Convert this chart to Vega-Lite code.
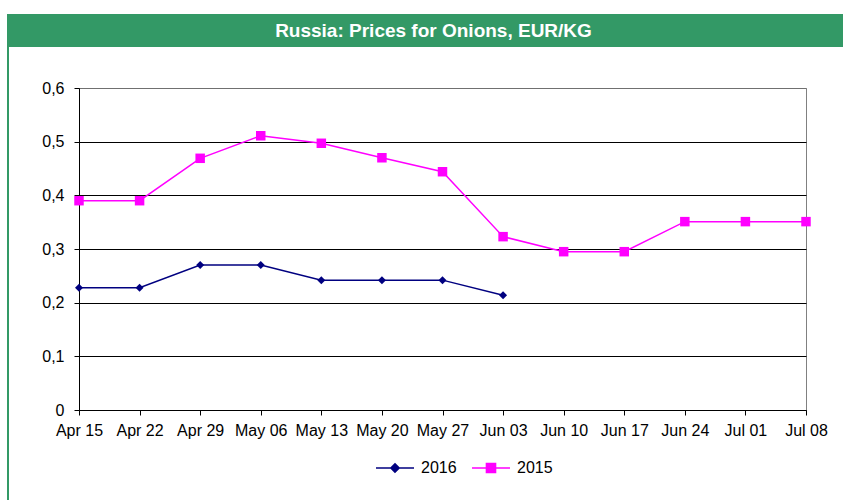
{
  "$schema": "https://vega.github.io/schema/vega-lite/v6.json",
  "padding": {"left": 7, "top": 14, "right": 0, "bottom": 0},
  "background": "white",
  "config": {
    "font": "Liberation Sans",
    "view": {"stroke": null}
  },
  "bounds": "flush",
  "spacing": 0,
  "resolve": {"legend": {"color": "independent"}},
  "vconcat": [
    {
      "width": 853,
      "height": 33,
      "view": {"fill": "#339966", "stroke": null},
      "data": {"values": [{"t": "Russia: Prices for Onions, EUR/KG"}]},
      "mark": {"type": "text", "color": "white", "fontWeight": "bold", "fontSize": 19, "font": "Liberation Sans", "baseline": "middle", "align": "center"},
      "encoding": {"text": {"field": "t"}}
    },
    {
      "bounds": "flush",
      "spacing": 70,
      "resolve": {"legend": {"color": "independent"}},
      "hconcat": [
        {
          "width": 2,
          "height": 456,
          "view": {"fill": "#339966", "stroke": null},
          "data": {"values": [{"t": ""}]},
          "mark": {"type": "text"},
          "encoding": {"text": {"field": "t"}}
        },
        {
          "bounds": "flush",
          "spacing": 40,
          "resolve": {"legend": {"color": "independent"}},
          "vconcat": [
            {
              "width": 1,
              "height": 1,
              "view": {"stroke": null},
              "data": {"values": [{"t": ""}]},
              "mark": {"type": "text"},
              "encoding": {"text": {"field": "t"}}
            },
            {
              "width": 727,
              "height": 322,
              "view": {"stroke": "#808080", "strokeWidth": 1, "fill": null},
              "data": {"values": [
                {"week": "Apr 15", "series": "2016", "price": 0.228},
                {"week": "Apr 22", "series": "2016", "price": 0.228},
                {"week": "Apr 29", "series": "2016", "price": 0.270},
                {"week": "May 06", "series": "2016", "price": 0.270},
                {"week": "May 13", "series": "2016", "price": 0.242},
                {"week": "May 20", "series": "2016", "price": 0.242},
                {"week": "May 27", "series": "2016", "price": 0.242},
                {"week": "Jun 03", "series": "2016", "price": 0.214},
                {"week": "Apr 15", "series": "2015", "price": 0.390},
                {"week": "Apr 22", "series": "2015", "price": 0.390},
                {"week": "Apr 29", "series": "2015", "price": 0.469},
                {"week": "May 06", "series": "2015", "price": 0.511},
                {"week": "May 13", "series": "2015", "price": 0.497},
                {"week": "May 20", "series": "2015", "price": 0.470},
                {"week": "May 27", "series": "2015", "price": 0.444},
                {"week": "Jun 03", "series": "2015", "price": 0.323},
                {"week": "Jun 10", "series": "2015", "price": 0.295},
                {"week": "Jun 17", "series": "2015", "price": 0.295},
                {"week": "Jun 24", "series": "2015", "price": 0.351},
                {"week": "Jul 01", "series": "2015", "price": 0.351},
                {"week": "Jul 08", "series": "2015", "price": 0.351}
              ]},
              "encoding": {
                "x": {
                  "field": "week",
                  "type": "ordinal",
                  "sort": ["Apr 15","Apr 22","Apr 29","May 06","May 13","May 20","May 27","Jun 03","Jun 10","Jun 17","Jun 24","Jul 01","Jul 08"],
                  "scale": {"type": "point", "padding": 0},
                  "axis": {
                    "title": null,
                    "labelAngle": 0,
                    "labelFontSize": 16,
                    "labelColor": "black",
                    "labelPadding": 7,
                    "labelOverlap": false,
                    "labelFlush": false,
                    "tickSize": 5,
                    "tickColor": "black",
                    "domainColor": "black",
                    "grid": false
                  }
                },
                "y": {
                  "field": "price",
                  "type": "quantitative",
                  "scale": {"domain": [0, 0.6], "nice": false},
                  "axis": {
                    "title": null,
                    "values": [0, 0.1, 0.2, 0.3, 0.4, 0.5, 0.6],
                    "labelExpr": "datum.value == 0 ? '0' : replace(format(datum.value, '.1f'), '.', ',')",
                    "labelFontSize": 16,
                    "labelColor": "black",
                    "labelPadding": 10,
                    "tickSize": 5,
                    "tickColor": "black",
                    "domainColor": "black",
                    "grid": true,
                    "gridColor": {"condition": {"test": "datum.value >= 0.6", "value": "#707070"}, "value": "black"},
                    "gridOpacity": 1
                  }
                }
              },
              "layer": [
                {
                  "mark": {"type": "line", "strokeWidth": 1.5},
                  "encoding": {
                    "color": {
                      "field": "series",
                      "type": "nominal",
                      "scale": {"domain": ["2016", "2015"], "range": ["#000080", "#FF00FF"]},
                      "legend": {
                        "title": null,
                        "orient": "none",
                        "legendX": 296,
                        "legendY": 360,
                        "direction": "horizontal",
                        "labelFontSize": 16,
                        "labelColor": "black",
                        "labelOffset": 6,
                        "columnPadding": 12,
                        "symbolSize": 1444,
                        "encode": {
                          "symbols": {
                            "update": {
                              "shape": {"signal": "datum.value === '2016' ? 'M-1,0H1M0,-0.22L0.22,0L0,0.22L-0.22,0Z' : 'M-1,0H1M-0.24,-0.24H0.24V0.24H-0.24Z'"},
                              "fill": {"signal": "datum.value === '2016' ? '#000080' : '#FF00FF'"},
                              "stroke": {"signal": "datum.value === '2016' ? '#000080' : '#FF00FF'"},
                              "strokeWidth": {"value": 1.5},
                              "size": {"value": 1444},
                              "opacity": {"value": 1},
                              "fillOpacity": {"value": 1}
                            }
                          }
                        }
                      }
                    }
                  }
                },
                {
                  "mark": {"type": "point", "filled": true, "opacity": 1},
                  "encoding": {
                    "color": {"field": "series", "type": "nominal", "legend": null},
                    "shape": {"field": "series", "type": "nominal", "scale": {"domain": ["2016", "2015"], "range": ["diamond", "square"]}, "legend": null},
                    "size": {"field": "series", "type": "nominal", "scale": {"domain": ["2016", "2015"], "range": [64, 90]}, "legend": null}
                  }
                }
              ]
            }
          ]
        }
      ]
    }
  ]
}
